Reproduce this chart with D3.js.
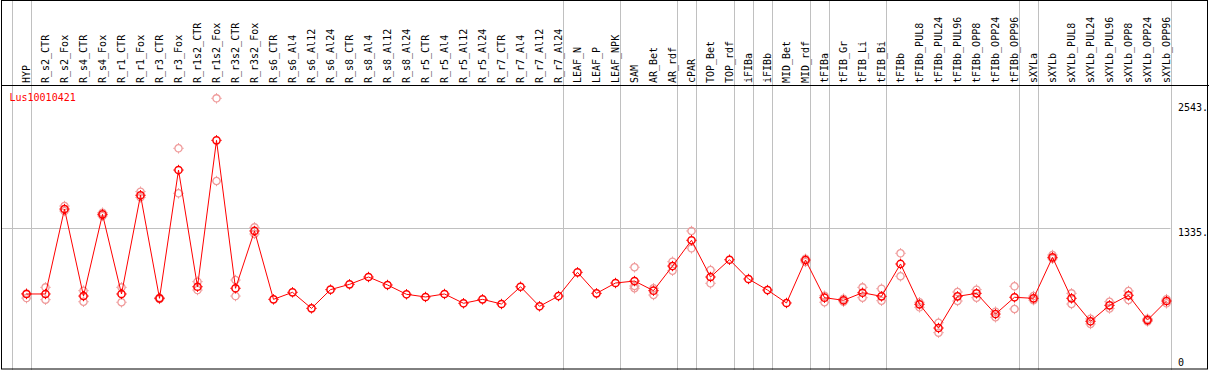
<!DOCTYPE html>
<html>
<head>
<meta charset="utf-8">
<script src="https://cdn.jsdelivr.net/npm/d3@7"></script>
<style>
    body { margin: 0; background: #fff; }
    svg { display: block; }
    text { font-family: "DejaVu Sans Mono", monospace; font-size: 10px; }
</style>
</head>
<body>
<svg width="1209" height="370"></svg>
<script>

// sample names (one column each)
var samples = ['HYP', 'R_s2_CTR', 'R_s2_Fox', 'R_s4_CTR', 'R_s4_Fox', 'R_r1_CTR', 'R_r1_Fox',
    'R_r3_CTR', 'R_r3_Fox', 'R_r1s2_CTR', 'R_r1s2_Fox', 'R_r3s2_CTR', 'R_r3s2_Fox',
    'R_s6_CTR', 'R_s6_Al4', 'R_s6_Al12', 'R_s6_Al24', 'R_s8_CTR', 'R_s8_Al4', 'R_s8_Al12', 'R_s8_Al24',
    'R_r5_CTR', 'R_r5_Al4', 'R_r5_Al12', 'R_r5_Al24', 'R_r7_CTR', 'R_r7_Al4', 'R_r7_Al12', 'R_r7_Al24',
    'LEAF_N', 'LEAF_P', 'LEAF_NPK', 'SAM', 'AR_Bet', 'AR_rdf', 'cPAR', 'TOP_Bet', 'TOP_rdf',
    'iFIBa', 'iFIBb', 'MID_Bet', 'MID_rdf', 'tFIBa', 'tFIB_Gr', 'tFIB_Li', 'tFIB_Bi',
    'tFIBb', 'tFIBb_PUL8', 'tFIBb_PUL24', 'tFIBb_PUL96', 'tFIBb_OPP8', 'tFIBb_OPP24', 'tFIBb_OPP96',
    'sXYLa', 'sXYLb', 'sXYLb_PUL8', 'sXYLb_PUL24', 'sXYLb_PUL96', 'sXYLb_OPP8', 'sXYLb_OPP24', 'sXYLb_OPP96'];

// first sample of each group (a grey separator is drawn before it)
var groupStarts = ['HYP', 'R_s2_CTR', 'LEAF_N', 'SAM', 'cPAR', 'TOP_Bet', 'iFIBa', 'iFIBb',
    'MID_Bet', 'tFIBa', 'tFIB_Gr', 'tFIBb', 'sXYLa', 'sXYLb'];

// mean expression per sample
var meanValues = [700, 700, 1521, 680, 1470, 700, 1654, 658, 1898, 770, 2185, 755, 1309,
    648, 716, 561, 742, 793, 864, 787, 697, 671, 700, 610, 648, 603, 770, 581, 680,
    909, 706, 806, 825, 732, 970, 1219, 864, 1031, 845, 738, 613, 1028, 664, 639, 712, 677,
    990, 600, 371, 677, 706, 506, 668, 658, 1054, 658, 436, 590, 687, 448, 632];

// replicate values per sample
var replicateValues = [
    [660, 705], [764, 645], [1550, 1502], [732, 625], [1486, 1454], [764, 620], [1689, 1634],
    [652, 664], [2108, 1673], [819, 738], [2591, 1792], [835, 680], [1344, 1280],
    [], [], [], [], [], [], [], [], [], [], [], [], [], [], [], [],
    [], [], [], [958, 777, 755], [690, 755], [1012, 925], [1309, 1141], [932, 803], [],
    [], [], [], [1010, 1040], [683, 620], [655, 625], [764, 664], [751, 635],
    [1093, 871], [571, 620], [422, 326], [719, 632], [742, 664], [529, 475], [774, 555],
    [680, 640], [1077, 1040], [706, 603], [460, 410], [625, 560], [729, 642], [460, 435], [650, 610]];

// y axis ticks
var yTicks = [0, 1335, 2543];
var yTickLabels = ['0', '1335.', '2543.'];
var gridTicks = [1335];

var geneName = 'Lus10010421';

var svg = d3.select('svg');
var width = +svg.attr('width');
var height = +svg.attr('height');
var headerBottom = 85.5;

// scales
var xScale = d3.scaleBand()
    .domain(samples)
    .range([11.5, 1170.5]);
var pointOffset = 15;
var px = function(s) { return xScale(s) + pointOffset; };

var yScale = d3.scaleLinear()
    .domain([0, 2543])
    .range([366.4, 103.3]);

// grey separators between groups, running through the header
var separators = groupStarts.map(function(s) { return xScale(s); });
separators.push(xScale.range()[1]);

svg.append('g')
    .selectAll('line')
    .data(separators)
    .join('line')
    .attr('x1', function(d) { return Math.round(d) + 0.5; })
    .attr('x2', function(d) { return Math.round(d) + 0.5; })
    .attr('y1', 0)
    .attr('y2', height)
    .attr('stroke', '#c0c0c0')
    .attr('stroke-width', 1);

// horizontal grid line
svg.append('g')
    .selectAll('line')
    .data(gridTicks)
    .join('line')
    .attr('x1', 2)
    .attr('x2', xScale.range()[1])
    .attr('y1', function(d) { return Math.round(yScale(d)) + 0.5; })
    .attr('y2', function(d) { return Math.round(yScale(d)) + 0.5; })
    .attr('stroke', '#c0c0c0')
    .attr('stroke-width', 1);

// frame and header line
svg.append('rect')
    .attr('x', 1.5)
    .attr('y', 0.5)
    .attr('width', width - 3)
    .attr('height', height - 1.5)
    .attr('fill', 'none')
    .attr('stroke', '#000')
    .attr('stroke-width', 1);

svg.append('line')
    .attr('x1', 1)
    .attr('x2', width)
    .attr('y1', headerBottom)
    .attr('y2', headerBottom)
    .attr('stroke', '#000')
    .attr('stroke-width', 1);

// column labels, rotated
svg.append('g')
    .selectAll('text')
    .data(samples)
    .join('text')
    .attr('transform', function(d) { return 'translate(' + (px(d) + 3) + ',83) rotate(-90)'; })
    .attr('fill', '#000')
    .text(function(d) { return d; });

// y axis labels on the right
svg.append('g')
    .selectAll('text')
    .data(yTicks)
    .join('text')
    .attr('x', 1178)
    .attr('y', function(d) { return Math.min(yScale(d) + 8, 366); })
    .attr('fill', '#000')
    .text(function(d, i) { return yTickLabels[i]; });

// gene name
svg.append('text')
    .attr('x', 9.5)
    .attr('y', 101)
    .attr('fill', '#ff0000')
    .text(geneName);

// marker: circle with small spikes
function drawMarker(sel, color, strokeWidth) {
    sel.append('circle')
        .attr('r', 3.6)
        .attr('fill', 'none')
        .attr('stroke', color)
        .attr('stroke-width', strokeWidth);
    sel.append('path')
        .attr('d', 'M0,-5.2V-3.8M0,3.8V5.2M-5.2,0H-3.8M3.8,0H5.2')
        .attr('stroke', color)
        .attr('stroke-width', 1);
}

// replicates first
var reps = [];
samples.forEach(function(s, i) {
    replicateValues[i].forEach(function(v) { reps.push({ sample: s, value: v }); });
});

svg.append('g')
    .selectAll('g')
    .data(reps)
    .join('g')
    .attr('transform', function(d) { return 'translate(' + px(d.sample) + ',' + yScale(d.value) + ')'; })
    .call(drawMarker, '#ef9a9a', 1.3);

// mean line
var meanData = samples.map(function(s, i) { return { sample: s, value: meanValues[i] }; });

var line = d3.line()
    .x(function(d) { return px(d.sample); })
    .y(function(d) { return yScale(d.value); });

svg.append('path')
    .datum(meanData)
    .attr('fill', 'none')
    .attr('stroke', '#ff0000')
    .attr('stroke-width', 1)
    .attr('d', line);

svg.append('g')
    .selectAll('g')
    .data(meanData)
    .join('g')
    .attr('transform', function(d) { return 'translate(' + px(d.sample) + ',' + yScale(d.value) + ')'; })
    .call(drawMarker, '#ff0000', 1.5);

</script>
</body>
</html>
